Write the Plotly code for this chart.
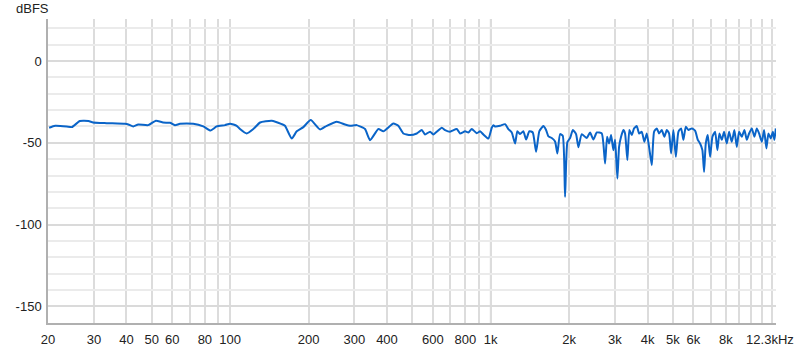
import plotly.graph_objects as go
import math

freq_hz = [20.2, 21.3, 23.6, 24.7, 26.5, 28.6, 29.8, 33.6, 39.5, 40.7, 42.5, 44.4, 48.5,
           51.9, 55.3, 58.8, 61.4, 64.2, 72.2, 78.9, 84.2, 88.8, 95.6, 100, 106.0, 109.1,
           115.8, 122.8, 130.3, 144.4, 157.8, 162.4, 172.4, 180.2, 191.0, 203.9, 221.3,
           234.9, 256.6, 276.1, 288.6, 306.2, 315.3, 329.5, 344.4, 370.7, 387.4, 423.1,
           442.2, 462.3, 490.6, 520.5, 543.9, 560.0, 585.3, 602.6, 649.2, 668.3, 698.4,
           741.1, 763.0, 797.5, 821.1, 846.1, 884.3, 910.6, 937.6, 979.9, 1009.7, 1024,
           1039.7, 1086.8, 1136, 1169.5, 1205, 1241, 1266, 1297, 1335, 1368, 1408, 1451,
           1494, 1538, 1594, 1632, 1666, 1716, 1767, 1803, 1847, 1891, 1930, 1970, 2018,
           2067, 2127, 2171, 2237, 2338, 2407, 2479, 2555, 2670, 2749, 2798, 2848, 2899,
           2958, 3003, 3065, 3111, 3166, 3231, 3280, 3347, 3407, 3480, 3551, 3638, 3713,
           3802, 3890, 3973, 4055, 4153, 4238, 4341, 4430, 4537, 4643, 4743, 4840, 4927,
           5028, 5137, 5255, 5383, 5493, 5611, 5741, 5916, 6090, 6237, 6365, 6496, 6594,
           6694, 6814, 6954, 7098, 7268, 7417, 7549, 7711, 7870, 8059, 8225, 8423, 8619,
           8804, 8985, 9204, 9417, 9619, 9816, 10053, 10287, 10508, 10724, 10984, 11207,
           11438, 11641, 11890, 12103, 12277, 12428]

level_dbfs = [-40.8, -39.6, -40.0, -40.4, -36.7, -36.7, -37.6, -38.0, -38.4, -38.8, -40.0,
              -38.8, -39.2, -36.5, -37.6, -37.8, -39.2, -38.4, -38.4, -40.0, -42.5, -40.0,
              -39.2, -38.3, -39.6, -41.6, -44.3, -41.6, -37.6, -36.5, -38.6, -39.6, -47.4,
              -43.0, -40.4, -36.1, -41.8, -39.6, -37.1, -38.8, -39.6, -39.2, -40.0, -41.6,
              -48.4, -41.6, -43.0, -38.2, -39.6, -44.3, -45.3, -44.3, -42.2, -44.9, -43.2,
              -44.9, -40.8, -42.2, -43.2, -41.6, -44.3, -43.0, -43.7, -41.6, -44.1, -43.0,
              -44.9, -47.4, -40.8, -39.2, -40.0, -39.6, -38.6, -41.6, -43.7, -50.4, -42.9,
              -44.7, -42.9, -48.0, -42.9, -43.7, -55.5, -42.9, -39.8, -42.2, -46.1, -47.1,
              -49.2, -56.5, -44.7, -45.7, -83.1, -49.6, -47.1, -42.2, -44.7, -52.7, -44.7,
              -47.1, -43.7, -48.0, -43.7, -44.3, -62.7, -46.3, -50.4, -45.3, -54.5, -48.2,
              -71.9, -52.5, -46.3, -42.2, -44.3, -60.6, -42.2, -45.3, -41.2, -39.8, -44.3,
              -43.3, -49.4, -44.3, -52.5, -63.7, -43.3, -41.2, -44.3, -42.2, -46.3, -42.2,
              -44.3, -56.5, -42.2, -58.6, -43.3, -41.2, -48.2, -40.2, -42.2, -41.2, -42.6,
              -48.2, -50.4, -54.5, -67.8, -50.4, -45.3, -58.6, -46.3, -43.3, -54.5, -44.3,
              -48.2, -43.3, -50.4, -43.3, -49.4, -42.2, -52.5, -43.3, -46.3, -42.2, -48.2,
              -44.3, -41.2, -46.3, -41.2, -44.3, -49.4, -42.2, -53.5, -44.3, -47.3, -43.3,
              -48.2, -41.2]

x_tick_vals = [20, 30, 40, 50, 60, 80, 100, 200, 300, 400, 600, 800, 1000,
               2000, 3000, 4000, 5000, 6000, 8000, 11800]
x_tick_text = ["20", "30", "40", "50", "60", "80", "100", "200", "300", "400", "600",
               "800", "1k", "2k", "3k", "4k", "5k", "6k", "8k", "12.3kHz"]
y_tick_vals = [0, -50, -100, -150]
y_tick_text = ["0", "-50", "-100", "-150"]

x_min, x_max = 20, 12450
y_min, y_max = -160.2, 25.7

minor_x = [m * d for d in (10, 100, 1000) for m in range(1, 10)] + [10000, 11000, 12000]
minor_x = [v for v in minor_x if x_min < v < x_max]
major_x = [100, 1000, 10000]
minor_y = list(range(-160, 30, 10))

fig = go.Figure()
fig.add_trace(go.Scatter(x=freq_hz, y=level_dbfs, mode="lines",
                         line=dict(color="#0a64c8", width=2, shape="spline", smoothing=0.5),
                         hoverinfo="skip"))

shapes = []
for v in major_x:
    shapes.append(dict(type="line", xref="x", yref="paper", x0=v, x1=v, y0=0, y1=1,
                       line=dict(color="#b4b4b4", width=1.5), layer="below"))
fig.update_layout(shapes=shapes)

font = dict(family="Liberation Sans, Arial, sans-serif", size=13, color="#222")
fig.update_layout(
    width=800, height=349,
    margin=dict(l=48, r=24, t=19, b=26, autoexpand=False),
    paper_bgcolor="white", plot_bgcolor="white",
    showlegend=False, font=font,
    xaxis=dict(type="log", range=[math.log10(x_min), math.log10(x_max)],
               tickvals=x_tick_vals, ticktext=x_tick_text, showgrid=False,
               ticks="", showline=True, linecolor="#b0b0b0", linewidth=1.5,
               zeroline=False, ticklabelstandoff=4, automargin=False,
               minor=dict(tickvals=minor_x, showgrid=True, gridcolor="#dcdcdc",
                          gridwidth=1.5, ticks="")),
    yaxis=dict(range=[y_min, y_max], tickvals=y_tick_vals, ticktext=y_tick_text,
               showgrid=True, gridcolor="#dadada", gridwidth=1.5, ticks="",
               showline=True, linecolor="#b0b0b0", linewidth=1.5, zeroline=False,
               ticklabelstandoff=2, automargin=False,
               minor=dict(tickvals=minor_y, showgrid=True, gridcolor="#ebebeb",
                          gridwidth=1.5, ticks="")),
    annotations=[dict(text="dBFS", xref="paper", yref="paper", x=-0.0467, y=1.033,
                      xanchor="left", yanchor="middle", showarrow=False,
                      font=dict(family="Liberation Sans, Arial, sans-serif", size=13,
                                color="#222"))],
)

fig.write_html("out.html", config={"displayModeBar": False},
               post_script="document.body.style.margin='0';document.body.style.overflow='hidden';")
